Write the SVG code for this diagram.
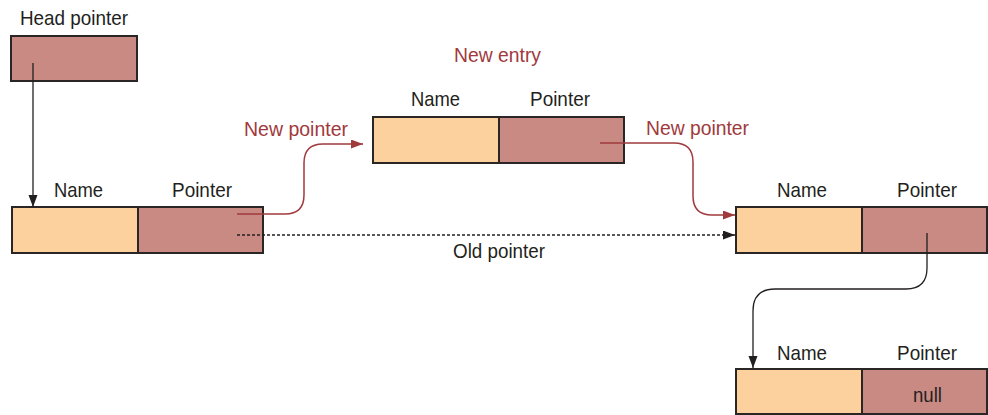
<svg xmlns="http://www.w3.org/2000/svg" width="988" height="415" viewBox="0 0 988 415">
<style>
.bg{fill:#ffffff}
.nm{fill:#fdd19d;stroke:#2a2626;stroke-width:2}
.pt{fill:#c98a84;stroke:#2a2626;stroke-width:2}
.t{font-family:"Liberation Sans",Arial,sans-serif;font-size:21px;fill:#231f20}
.r{fill:#a03a3d}
.cb{fill:none;stroke:#231f20;stroke-width:1.3}
.cr{fill:none;stroke:#a03a3d;stroke-width:1.5}
.cd{fill:none;stroke:#231f20;stroke-width:1.3;stroke-dasharray:3 2}
</style>
<defs>
<marker id="ab" markerUnits="userSpaceOnUse" markerWidth="13" markerHeight="10" refX="12" refY="4.5" orient="auto"><path d="M0,0 L12,4.5 L0,9 z" fill="#231f20"/></marker>
<marker id="ar" markerUnits="userSpaceOnUse" markerWidth="13" markerHeight="10" refX="12" refY="4.5" orient="auto"><path d="M0,0 L12,4.5 L0,9 z" fill="#a03a3d"/></marker>
</defs>
<rect class="bg" x="0" y="0" width="988" height="415"/>
<g id="head">
<text class="t" x="20" y="25" textLength="108" lengthAdjust="spacingAndGlyphs">Head pointer</text>
<rect class="pt" x="11" y="36" width="126" height="45"/>
</g>
<g id="node1">
<text class="t" x="54" y="197" textLength="49" lengthAdjust="spacingAndGlyphs">Name</text>
<text class="t" x="172" y="197" textLength="60" lengthAdjust="spacingAndGlyphs">Pointer</text>
<rect class="nm" x="12" y="207" width="126" height="46"/>
<rect class="pt" x="138" y="207" width="125" height="46"/>
</g>
<g id="newentry">
<text class="t r" x="454" y="62" textLength="87" lengthAdjust="spacingAndGlyphs">New entry</text>
<text class="t" x="411" y="106" textLength="49" lengthAdjust="spacingAndGlyphs">Name</text>
<text class="t" x="530" y="106" textLength="60" lengthAdjust="spacingAndGlyphs">Pointer</text>
<rect class="nm" x="373" y="117" width="126" height="46"/>
<rect class="pt" x="499" y="117" width="125" height="46"/>
</g>
<g id="node3">
<text class="t" x="777" y="197" textLength="50" lengthAdjust="spacingAndGlyphs">Name</text>
<text class="t" x="897" y="197" textLength="60" lengthAdjust="spacingAndGlyphs">Pointer</text>
<rect class="nm" x="736" y="207" width="126" height="46"/>
<rect class="pt" x="862" y="207" width="125" height="46"/>
</g>
<g id="node4">
<text class="t" x="777" y="360" textLength="50" lengthAdjust="spacingAndGlyphs">Name</text>
<text class="t" x="897" y="360" textLength="60" lengthAdjust="spacingAndGlyphs">Pointer</text>
<rect class="nm" x="736" y="369" width="126" height="45"/>
<rect class="pt" x="862" y="369" width="125" height="45"/>
<text class="t" x="913" y="402" textLength="29" lengthAdjust="spacingAndGlyphs">null</text>
</g>
<g id="connectors">
<path class="cb" d="M33 63 V207" marker-end="url(#ab)"/>
<path class="cr" d="M237 214 H285 Q304 214 304 195 V163 Q304 144 323 144 H363" marker-end="url(#ar)"/>
<path class="cr" d="M600 143 H674 Q693 143 693 162 V196 Q693 215 712 215 H735" marker-end="url(#ar)"/>
<path class="cd" d="M237 235 H735" marker-end="url(#ab)"/>
<path class="cb" d="M927 233 V268 Q927 289 906 289 H775 Q753 289 753 311 V368" marker-end="url(#ab)"/>
<text class="t r" x="244" y="136" textLength="104" lengthAdjust="spacingAndGlyphs">New pointer</text>
<text class="t r" x="646" y="135" textLength="103" lengthAdjust="spacingAndGlyphs">New pointer</text>
<text class="t" x="453" y="258" textLength="92" lengthAdjust="spacingAndGlyphs">Old pointer</text>
</g>
</svg>
